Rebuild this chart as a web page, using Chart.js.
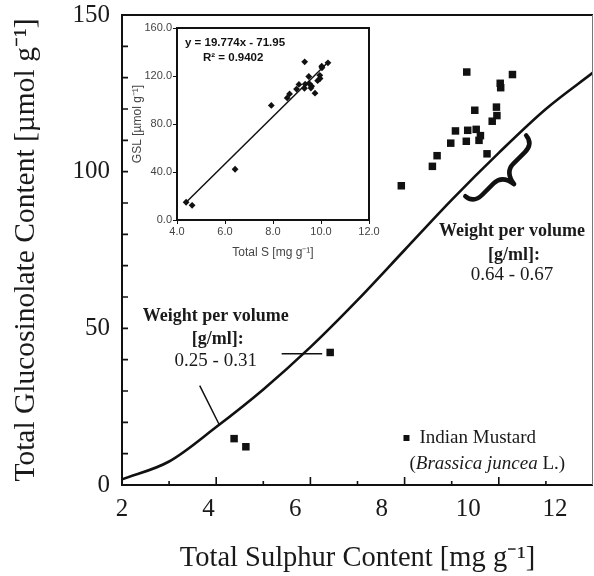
<!DOCTYPE html>
<html><head><meta charset="utf-8">
<script src="https://cdn.jsdelivr.net/npm/chart.js@4.4.1/dist/chart.umd.min.js"></script>
<style>
html,body{margin:0;padding:0;background:#fff;}
#wrap{position:relative;width:594px;height:576px;overflow:hidden;}
#main{position:absolute;left:0;top:0;}
#inset{position:absolute;left:125px;top:15px;}
</style></head><body>
<div id="wrap">
<canvas id="main" width="594" height="576"></canvas>
<canvas id="inset" width="260" height="250"></canvas>
</div>
<script>
// ---- data ----
const sulphurX = [9.32, 10.29, 10.03, 10.04, 9.49, 9.95, 9.96, 9.86, 9.08, 9.34, 9.52, 9.61, 9.58, 9.31, 8.98, 9.75, 8.69, 8.59, 7.93, 4.38, 4.63, 6.42];
const glucoY   = [131.8, 131.0, 128.2, 126.8, 119.6, 120.6, 117.9, 116.1, 113.0, 113.2, 113.5, 111.5, 110.0, 109.7, 109.1, 105.7, 105.1, 101.7, 95.5, 14.8, 12.2, 42.3];
const curveX = [2, 3, 4, 5, 6, 7, 8, 9, 10, 11, 12];
const curveY = [1.8, 7.5, 18.5, 30.5, 44.0, 59.0, 75.0, 91.0, 106.0, 120.0, 131.6];
const fitX = [4.35, 10.25];
const fitY = [14.1, 130.7];
const mainXTickLabels = ['2', '4', '6', '8', '10', '12'];
const mainYTickLabels = ['0', '50', '100', '150'];
const insetXTickLabels = ['4.0', '6.0', '8.0', '10.0', '12.0'];
const insetYTickLabels = ['0.0', '40.0', '80.0', '120.0', '160.0'];

const pts = sulphurX.map((x, i) => ({x, y: glucoY[i]}));
const curve = curveX.map((x, i) => ({x, y: curveY[i]}));
const fit = fitX.map((x, i) => ({x, y: fitY[i]}));

const SERIF = '"Liberation Serif", "Times New Roman", serif';
const SANS = '"Liberation Sans", Arial, sans-serif';
const INK = '#1a1a1a';
const noPad = s => { s.paddingLeft = 0; s.paddingRight = 0; s.paddingTop = 0; s.paddingBottom = 0; };

const mainDecor = {
  id: 'mainDecor',
  afterDatasetsDraw(chart) {
    const {ctx, chartArea: a, scales: {x, y}} = chart;
    const px = v => x.getPixelForValue(v), py = v => y.getPixelForValue(v);
    ctx.save();
    // frame
    ctx.lineCap = 'butt';
    ctx.strokeStyle = '#111'; ctx.lineWidth = 2;
    ctx.beginPath();
    ctx.moveTo(a.left, a.top); ctx.lineTo(a.right, a.top);
    ctx.moveTo(a.left, a.top - 1); ctx.lineTo(a.left, a.bottom + 1);
    ctx.moveTo(a.left - 1, a.bottom); ctx.lineTo(a.right, a.bottom);
    ctx.stroke();
    ctx.strokeStyle = '#777'; ctx.lineWidth = 1;
    ctx.beginPath(); ctx.moveTo(a.right - 0.5, a.top); ctx.lineTo(a.right - 0.5, a.bottom); ctx.stroke();
    // inward ticks
    ctx.strokeStyle = '#111'; ctx.lineWidth = 1.6;
    ctx.beginPath();
    for (let v = 3; v <= 11; v++) {
      const len = v % 2 === 0 ? 8 : 4;
      ctx.moveTo(px(v), a.bottom); ctx.lineTo(px(v), a.bottom - len);
    }
    for (let v = 10; v <= 140; v += 10) {
      ctx.moveTo(a.left, py(v)); ctx.lineTo(a.left + 6, py(v));
    }
    ctx.stroke();
    // leader lines
    ctx.lineWidth = 1.5;
    ctx.beginPath();
    ctx.moveTo(px(3.65), py(31.7)); ctx.lineTo(px(4.06), py(19.4));
    ctx.moveTo(px(5.39), py(41.9)); ctx.lineTo(px(6.25), py(41.9));
    ctx.stroke();
    // annotation texts
    ctx.fillStyle = INK; ctx.textAlign = 'center'; ctx.textBaseline = 'middle';
    const block = (cx, ys, range) => {
      ctx.font = 'bold 18px ' + SERIF;
      ctx.fillText('Weight per volume', px(cx), py(ys[0]));
      ctx.fillText('[g/ml]:', px(cx) + 2, py(ys[1]));
      ctx.font = '19px ' + SERIF;
      ctx.fillText(range, px(cx), py(ys[2]));
    };
    block(3.99, [53.8, 46.5, 39.7], '0.25 - 0.31');
    block(10.28, [80.8, 73.4, 67.0], '0.64 - 0.67');
    // brace
    ctx.save();
    ctx.translate(px(10.10), py(99.4));
    ctx.rotate(-Math.PI / 4);
    ctx.lineWidth = 4.5; ctx.lineCap = 'round'; ctx.lineJoin = 'round';
    ctx.beginPath();
    ctx.moveTo(-43, -11);
    ctx.quadraticCurveTo(-42, 0, -30, 0);
    ctx.lineTo(-14, 0);
    ctx.quadraticCurveTo(-2, 0, 0, 15);
    ctx.quadraticCurveTo(2, 0, 14, 0);
    ctx.lineTo(30, 0);
    ctx.quadraticCurveTo(42, 0, 43, -11);
    ctx.stroke();
    ctx.restore();
    // legend
    const lx = px(8.04), ly = py(15.0);
    ctx.fillStyle = '#111';
    ctx.fillRect(lx - 3, ly - 3, 6, 6);
    ctx.fillStyle = INK; ctx.textAlign = 'left';
    ctx.font = '19px ' + SERIF;
    ctx.fillText('Indian Mustard', lx + 13, ly);
    const l2y = py(6.7);
    let cx = lx + 3;
    ctx.fillText('(', cx, l2y); cx += ctx.measureText('(').width;
    ctx.font = 'italic 19px ' + SERIF;
    ctx.fillText('Brassica juncea', cx, l2y); cx += ctx.measureText('Brassica juncea').width;
    ctx.font = '19px ' + SERIF;
    ctx.fillText(' L.)', cx, l2y);
    ctx.restore();
  }
};

new Chart(document.getElementById('main'), {
  type: 'scatter',
  data: {datasets: [
    {data: pts, pointStyle: 'rect', pointRadius: 5.3, backgroundColor: '#111', borderWidth: 0, order: 1},
    {data: curve, showLine: true, borderColor: '#111', borderWidth: 2.6, pointRadius: 0,
     cubicInterpolationMode: 'monotone', fill: false, order: 2}
  ]},
  options: {
    responsive: false, animation: false, events: [],
    layout: {autoPadding: false, padding: {top: 15, right: 1, left: 0, bottom: 0}},
    plugins: {legend: {display: false}, tooltip: {enabled: false}},
    scales: {
      x: {type: 'linear', display: false, min: 2, max: 12},
      xl: {type: 'linear', position: 'bottom', weight: 1, min: 2, max: 12.88,
        afterBuildTicks: s => { s.ticks = mainXTickLabels.map(t => ({value: Number(t)})); },
        grid: {display: false, drawTicks: false}, border: {display: false},
        ticks: {callback: (v, i) => mainXTickLabels[i], font: {family: SERIF, size: 25}, color: INK,
                padding: 9, maxRotation: 0, autoSkip: false, includeBounds: false},
        title: {display: true, text: 'Total Sulphur Content [mg g⁻¹]', font: {family: SERIF, size: 28.5},
                color: INK, padding: {top: 0, bottom: 0}},
        afterFit: s => { s.height = 91; noPad(s); }},
      y: {type: 'linear', position: 'left', min: 0, max: 150,
        afterBuildTicks: s => { s.ticks = mainYTickLabels.map(t => ({value: Number(t)})); },
        grid: {display: false, drawTicks: false}, border: {display: false},
        ticks: {callback: (v, i) => mainYTickLabels[i], font: {family: SERIF, size: 25}, color: INK, padding: 12},
        title: {display: true, text: 'Total Glucosinolate Content [µmol g⁻¹]', font: {family: SERIF, size: 29.5},
                color: INK, padding: {top: 9, bottom: 0}},
        afterFit: s => { s.width = 122; noPad(s); }}
    }
  },
  plugins: [mainDecor]
});

const insetDecor = {
  id: 'insetDecor',
  afterDatasetsDraw(chart) {
    const {ctx, chartArea: a} = chart;
    ctx.save();
    ctx.strokeStyle = '#111'; ctx.lineWidth = 2;
    ctx.strokeRect(a.left, a.top, a.right - a.left, a.bottom - a.top);
    ctx.fillStyle = '#111'; ctx.textAlign = 'left'; ctx.textBaseline = 'middle';
    ctx.font = 'bold 11.5px ' + SANS;
    ctx.fillText('y = 19.774x - 71.95', a.left + 8, a.top + 15);
    ctx.fillText('R² = 0.9402', a.left + 26, a.top + 30);
    ctx.restore();
  }
};

new Chart(document.getElementById('inset'), {
  type: 'scatter',
  data: {datasets: [
    {data: pts, pointStyle: 'rectRot', pointRadius: 3.4, backgroundColor: '#111', borderWidth: 0, order: 1},
    {data: fit, showLine: true, borderColor: '#111', borderWidth: 1.5, pointRadius: 0, order: 2}
  ]},
  options: {
    responsive: false, animation: false, events: [],
    layout: {autoPadding: false, padding: {top: 13, right: 16, left: 0, bottom: 0}},
    plugins: {legend: {display: false}, tooltip: {enabled: false}},
    scales: {
      x: {type: 'linear', min: 4, max: 12,
        afterBuildTicks: s => { s.ticks = insetXTickLabels.map(t => ({value: Number(t)})); },
        grid: {drawOnChartArea: false, drawTicks: true, tickLength: 4, color: '#111'}, border: {display: false},
        ticks: {callback: (v, i) => insetXTickLabels[i], font: {family: SANS, size: 11}, color: '#444',
                padding: 1, maxRotation: 0, autoSkip: false},
        title: {display: true, text: 'Total S [mg g⁻¹]', font: {family: SANS, size: 12}, color: '#444',
                padding: {top: 0, bottom: 5}},
        afterFit: s => { s.height = 45; noPad(s); }},
      y: {type: 'linear', min: 0, max: 160,
        afterBuildTicks: s => { s.ticks = insetYTickLabels.map(t => ({value: Number(t)})); },
        grid: {drawOnChartArea: false, drawTicks: true, tickLength: 4, color: '#111'}, border: {display: false},
        ticks: {callback: (v, i) => insetYTickLabels[i], font: {family: SANS, size: 11}, color: '#444', padding: 1},
        title: {display: true, text: 'GSL [µmol g⁻¹]', font: {family: SANS, size: 12}, color: '#444',
                padding: {top: 5, bottom: 0}},
        afterFit: s => { s.width = 52; noPad(s); }}
    }
  },
  plugins: [insetDecor]
});
</script>
</body></html>
